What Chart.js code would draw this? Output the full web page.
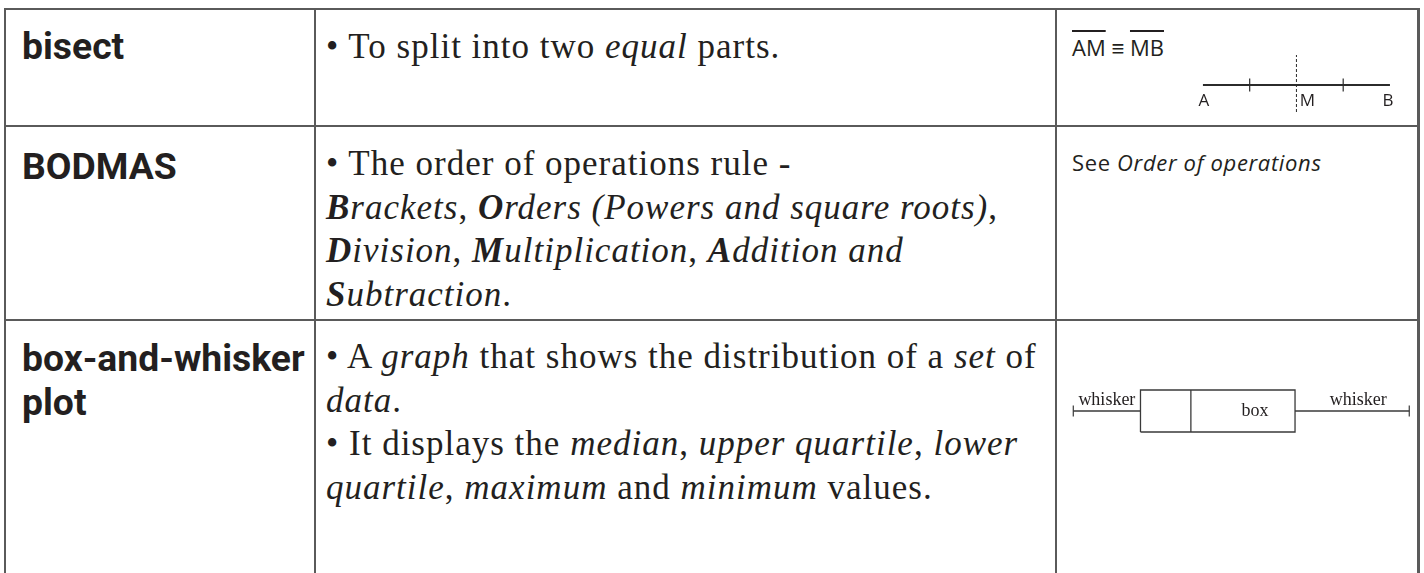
<!DOCTYPE html>
<html>
<head>
<meta charset="utf-8">
<script src="https://cdn.jsdelivr.net/npm/chart.js@4/dist/chart.umd.min.js"></script>
<style>
html,body{margin:0;padding:0;background:#fff;width:1424px;height:573px;overflow:hidden;}
#page{position:relative;width:1424px;height:573px;}
.hl,.vl{position:absolute;background:#5a5a5a;}
.term{position:absolute;left:22px;font-family:Roboto,"Liberation Sans",sans-serif;font-weight:700;font-size:37.3px;line-height:44px;color:#231f20;white-space:nowrap;letter-spacing:0px;}
.desc{position:absolute;left:326px;font-family:"Liberation Serif","Times New Roman",serif;font-size:35px;line-height:43.5px;letter-spacing:1px;color:#231f20;white-space:nowrap;}
.side{position:absolute;left:1072px;font-family:"Open Sans","Noto Sans",sans-serif;color:#231f20;white-space:nowrap;}
.diag{position:absolute;}
.diag canvas{position:absolute;left:0;top:0;}
.lbl{position:absolute;transform:translate(-50%,-50%);white-space:nowrap;color:#231f20;line-height:1;}
.sans{font-family:"Open Sans","Noto Sans",sans-serif;font-size:17px;}
.serif{font-family:"Liberation Serif","Times New Roman",serif;font-size:18px;}
.ov{text-decoration:overline;text-decoration-thickness:1.5px;}
</style>
</head>
<body>
<div id="page"></div>
<script>
// ---------- table content ----------
const terms = ['bisect', 'BODMAS', 'box-and-whisker<br>plot'];
const definitionLines = [
  ['• To split into two <i>equal</i> parts.'],
  ['• The order of operations rule -',
   '<i><b>B</b>rackets</i>, <i><b>O</b>rders (Powers and square roots)</i>,',
   '<i><b>D</b>ivision</i>, <i><b>M</b>ultiplication</i>, <i><b>A</b>ddition and</i>',
   '<i><b>S</b>ubtraction</i>.'],
  ['• A <i>graph</i> that shows the distribution of a <i>set</i> of',
   '<i>data</i>.',
   '• It displays the <i>median</i>, <i>upper quartile</i>, <i>lower</i>',
   '<i>quartile</i>, <i>maximum</i> and <i>minimum</i> values.']
];
const seeAlso = 'See <i>Order of operations</i>';
const congruenceText = '<span class="ov">AM</span> ≡ <span class="ov">MB</span>';

// ---------- bisect diagram data ----------
const segmentLabels = ['A', 'M', 'B'];
const segmentValues = [0, 2, 4];
const segmentTicks = [1, 3];
const bisectorSpan = [-0.9, 1.0];

// ---------- box-and-whisker diagram data ----------
const boxStatNames = ['minimum', 'lower quartile', 'median', 'upper quartile', 'maximum'];
const boxValues = [0, 2, 3.5, 6.6, 10];
const boxHalfHeight = 0.42;
const boxTextLabels = ['whisker', 'box', 'whisker'];

// ---------- layout ----------
const page = document.getElementById('page');
function el(tag, cls, style, html) {
  const e = document.createElement(tag);
  if (cls) e.className = cls;
  Object.assign(e.style, style || {});
  if (html !== undefined) e.innerHTML = html;
  page.appendChild(e);
  return e;
}
// grid lines
const gridTop = 8, rowLines = [125, 319], colLines = [4, 314, 1055, 1417];
el('div', 'hl', {left: '4px', top: gridTop + 'px', width: '1416px', height: '2px'});
rowLines.forEach(y => el('div', 'hl', {left: '4px', top: y + 'px', width: '1416px', height: '2px'}));
colLines.forEach((x, i) => el('div', 'vl', {left: x + 'px', top: gridTop + 'px', width: (i === 3 ? 3 : 2) + 'px', height: (573 - gridTop) + 'px'}));

const termTops = [24, 144, 336];
terms.forEach((t, i) => el('div', 'term', {top: termTops[i] + 'px'}, t));
const descTops = [25, 142, 335];
definitionLines.forEach((lines, i) => el('div', 'desc', {top: descTops[i] + 'px'}, lines.join('<br>')));
el('div', 'side', {top: '147px', fontSize: '22px', letterSpacing: '0.65px'}, seeAlso);
el('div', 'side', {top: '32px', fontSize: '22px', lineHeight: '30px'}, congruenceText);

// ---------- Chart.js ----------
const placeLabels = {
  id: 'placeLabels',
  afterRender(chart, args, opts) {
    const wrap = chart.canvas.parentNode;
    (opts.items || []).forEach(it => {
      let node = wrap.querySelector('[data-k="' + it.key + '"]');
      if (!node) {
        node = document.createElement('div');
        node.dataset.k = it.key;
        node.className = 'lbl ' + it.cls;
        node.textContent = it.text;
        wrap.appendChild(node);
      }
      node.style.left = (chart.scales.x.getPixelForValue(it.x) + (it.dx || 0)) + 'px';
      node.style.top = (chart.scales.y.getPixelForValue(it.y) + (it.dy || 0)) + 'px';
    });
  }
};
Chart.register(placeLabels);

function makeDiag(left, top, w, h) {
  const d = el('div', 'diag', {left: left + 'px', top: top + 'px', width: w + 'px', height: h + 'px'});
  const c = document.createElement('canvas');
  c.width = w; c.height = h;
  d.appendChild(c);
  return c;
}
const ink = '#2b2b2b';
const baseOpts = {
  responsive: false, animation: false, events: [],
  layout: {padding: 0, autoPadding: false},
  plugins: {legend: {display: false}, tooltip: {enabled: false}},
};

// bisect diagram
const c1 = makeDiag(1058, 11, 360, 114);
const mid = segmentValues[segmentLabels.indexOf('M')];
new Chart(c1, {
  type: 'scatter',
  data: {datasets: [
    {data: segmentValues.map(v => ({x: v, y: 0})), showLine: true, borderColor: ink, borderWidth: 2.2, pointRadius: 0, clip: false},
    {data: segmentTicks.map(v => ({x: v, y: 0})), pointStyle: 'line', rotation: 90, pointRadius: 6.5, borderColor: ink, pointBorderWidth: 1.2, borderWidth: 1.2, clip: false},
    {data: bisectorSpan.map(y => ({x: mid, y: y})), showLine: true, borderColor: ink, borderWidth: 1, borderDash: [3, 2], pointRadius: 0, clip: false}
  ]},
  options: Object.assign({}, baseOpts, {
    scales: {
      x: {type: 'linear', display: false, min: -3.1, max: 4.6},
      y: {type: 'linear', display: false, min: -1.333, max: 2.467}
    },
    plugins: Object.assign({}, baseOpts.plugins, {placeLabels: {items: segmentLabels.map((t, i) => ({
      key: t, text: t, cls: 'sans', x: segmentValues[i], y: 0,
      dx: t === 'M' ? 11 : (t === 'B' ? -2 : 1), dy: 14
    }))}})
  })
});

// box-and-whisker diagram
const c2 = makeDiag(1058, 361, 360, 100);
const [bMin, bQ1, bMed, bQ3, bMax] = boxValues;
const hh = boxHalfHeight;
new Chart(c2, {
  type: 'scatter',
  data: {datasets: [
    {data: [{x: bQ1, y: -hh}, {x: bQ3, y: -hh}, {x: bQ3, y: hh}, {x: bQ1, y: hh}, {x: bQ1, y: -hh}], showLine: true, borderColor: '#3a3a3a', borderWidth: 1.3, pointRadius: 0, clip: false},
    {data: [{x: bMed, y: -hh}, {x: bMed, y: hh}], showLine: true, borderColor: '#3a3a3a', borderWidth: 1.3, pointRadius: 0, clip: false},
    {data: [{x: bMin, y: 0}, {x: bQ1, y: 0}], showLine: true, borderColor: '#3a3a3a', borderWidth: 1.6, pointRadius: 0, clip: false},
    {data: [{x: bQ3, y: 0}, {x: bMax, y: 0}], showLine: true, borderColor: '#3a3a3a', borderWidth: 1.6, pointRadius: 0, clip: false},
    {data: [{x: bMin, y: 0}, {x: bMax, y: 0}], pointStyle: 'line', rotation: 90, pointRadius: 5.5, borderColor: '#3a3a3a', pointBorderWidth: 1.2, clip: false}
  ]},
  options: Object.assign({}, baseOpts, {
    scales: {
      x: {type: 'linear', display: false, min: -0.455, max: 10.26},
      y: {type: 'linear', display: false, min: -1, max: 1}
    },
    plugins: Object.assign({}, baseOpts.plugins, {placeLabels: {items: [
      {key: 'w1', text: boxTextLabels[0], cls: 'serif', x: (bMin + bQ1) / 2, y: 0, dx: 0, dy: -12},
      {key: 'bx', text: boxTextLabels[1], cls: 'serif', x: (bMed + bQ3) / 2, y: 0, dx: 12, dy: -1},
      {key: 'w2', text: boxTextLabels[2], cls: 'serif', x: (bQ3 + bMax) / 2, y: 0, dx: 6, dy: -12}
    ]}})
  })
});
</script>
</body>
</html>
